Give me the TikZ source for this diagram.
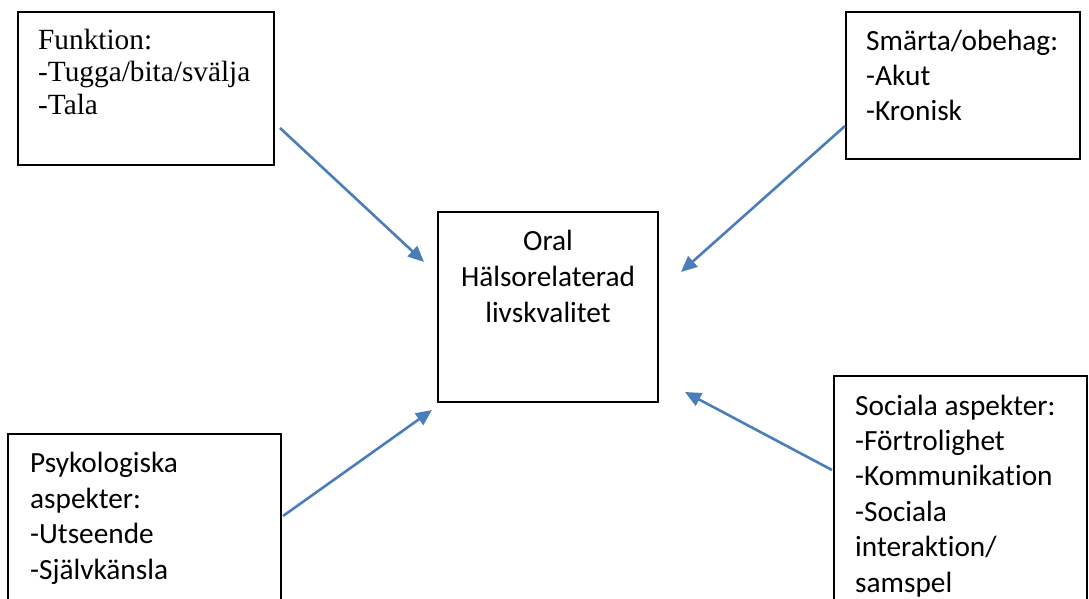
\documentclass[tikz,border=0pt]{standalone}
\usepackage{fontspec}
\setmainfont{Liberation Serif}
\newfontfamily\calibri[RawFeature={-liga}]{Carlito}
\usetikzlibrary{arrows.meta}
\definecolor{arrowblue}{HTML}{4A7EBB}
\tikzset{
  box/.style={draw=black, line width=1.2pt, inner sep=0pt},
  serif/.style={inner sep=0pt, align=left, font=\fontsize{29.3}{33}\selectfont},
  sans/.style={inner sep=0pt, align=left, font=\calibri\fontsize{29.3}{35.4}\selectfont},
  sansc/.style={inner sep=0pt, align=center, font=\calibri\fontsize{29.3}{36}\selectfont},
  link/.style={draw=arrowblue, line width=2.6pt, -{Triangle[length=16pt,width=14pt]}}
}
\begin{document}
\begin{tikzpicture}[x=1pt,y=-1pt]
\useasboundingbox (0,0) rectangle (1089,599);
\clip (0,0) rectangle (1089,599);
% boxes
\draw[box] (18,12) rectangle (274,165);
\draw[box] (846,12) rectangle (1080,159);
\draw[box] (438,212) rectangle (658,402);
\draw[box] (8,434) rectangle (281,620);
\draw[box] (834,376) rectangle (1087,620);
% texts (anchored at the baseline of the last line)
\node[serif, anchor=base west] (fun) at (38,115) {Funktion:\\-Tugga/bita/svälja\\-Tala};
\node[sans, anchor=base west] (sma) at (866,121) {Smärta/obehag:\\-Akut\\-Kronisk};
\node[sansc, anchor=base] (hrq) at (548,322) {Oral\\Hälsorelaterad\\livskvalitet};
\node[sans, anchor=base west] (psy) at (30,579) {Psykologiska\\aspekter:\\-Utseende\\-Självkänsla};
\node[sans, anchor=base west] (soc) at (855,592) {Sociala aspekter:\\-Förtrolighet\\-Kommunikation\\-Sociala\\interaktion/\\samspel};
% arrow endpoints
\coordinate (a1s) at (280,128); \coordinate (a1e) at (424,262);
\coordinate (a2s) at (845,126); \coordinate (a2e) at (681,272);
\coordinate (a3s) at (283,516); \coordinate (a3e) at (432,410);
\coordinate (a4s) at (832,470); \coordinate (a4e) at (685,392);
\draw[link] (a1s) -- (a1e);
\draw[link] (a2s) -- (a2e);
\draw[link] (a3s) -- (a3e);
\draw[link] (a4s) -- (a4e);
\end{tikzpicture}
\end{document}
